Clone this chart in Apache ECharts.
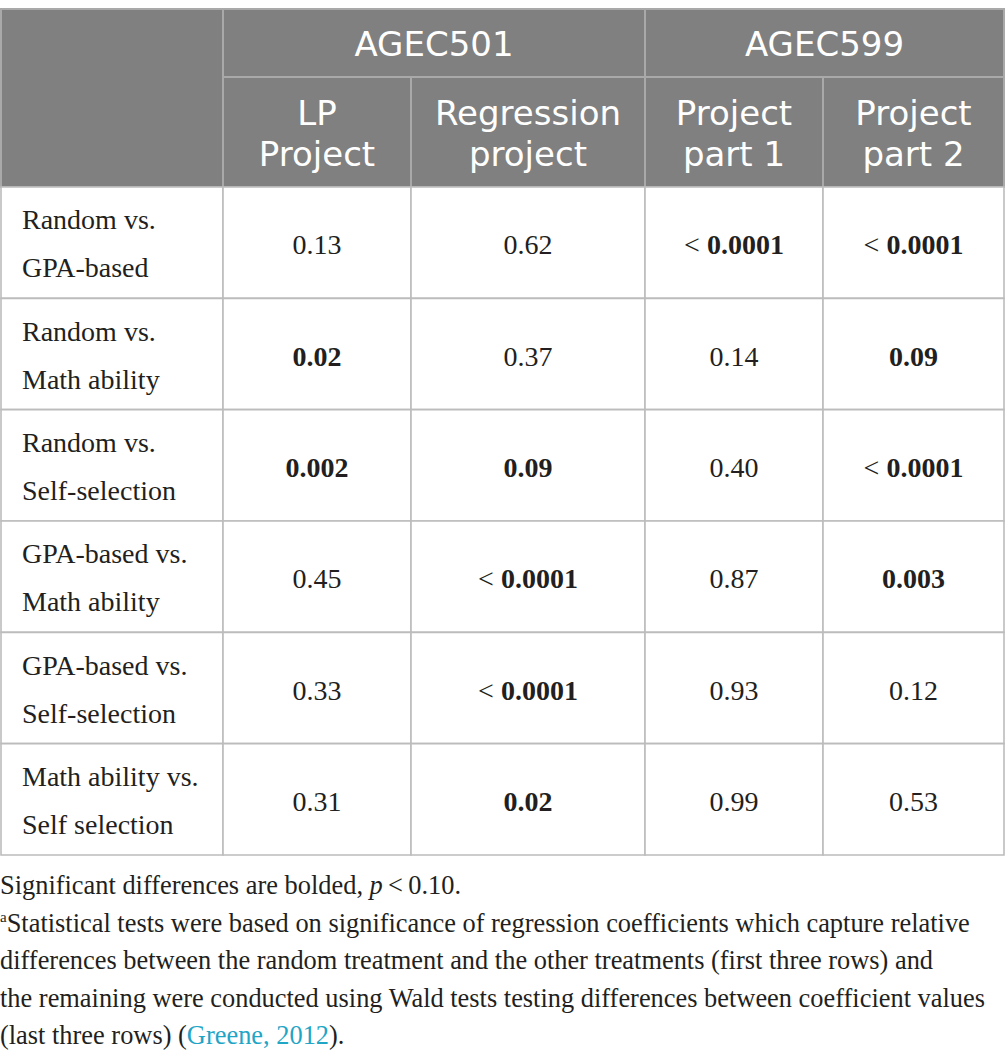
<!DOCTYPE html>
<html>
<head>
<meta charset="utf-8">
<script src="https://cdn.jsdelivr.net/npm/echarts@6/dist/echarts.min.js"></script>
<style>
html,body{margin:0;padding:0;background:#ffffff;}
#chart{width:1005px;height:1062px;}
</style>
</head>
<body>
<div id="chart"></div>
<script>
// ---------- data ----------
const groupHeaders = ['AGEC501', 'AGEC599'];
const columnHeaders = ['LP\nProject', 'Regression\nproject', 'Project\npart 1', 'Project\npart 2'];
const rowLabels = [
  'Random vs.\nGPA-based',
  'Random vs.\nMath ability',
  'Random vs.\nSelf-selection',
  'GPA-based vs.\nMath ability',
  'GPA-based vs.\nSelf-selection',
  'Math ability vs.\nSelf selection'
];
const lpProject         = ['0.13', '0.02', '0.002', '0.45', '0.33', '0.31'];
const regressionProject = ['0.62', '0.37', '0.09', '< 0.0001', '< 0.0001', '0.02'];
const projectPart1      = ['< 0.0001', '0.14', '0.40', '0.87', '0.93', '0.99'];
const projectPart2      = ['< 0.0001', '0.09', '< 0.0001', '0.003', '0.12', '0.53'];
const significanceLevel = 0.10;
const footnoteLines = [
  'Significant differences are bolded, {i|p}\u2009<\u20090.10.',
  '{sup|a}Statistical tests were based on significance of regression coefficients which capture relative',
  'differences between the random treatment and the other treatments (first three rows) and',
  'the remaining were conducted using Wald tests testing differences between coefficient values',
  '(last three rows) ({link|Greene, 2012}).'
];

// ---------- layout / style ----------
const COL_EDGES = [1, 223, 411, 645, 823, 1004];
const HEAD_Y = [9, 77, 187];
const TABLE_BOTTOM = 855;
const HEAD_FILL = '#808080';
const HEAD_LINE = '#a9a9a9';
const GRID_LINE = '#bcbcbc';
const TEXT = '#231f20';
const SERIF = '"Liberation Serif", "Times New Roman", serif';
const SANS = '"DejaVu Sans", sans-serif';
const HEAD_FONT = 34;
const HEAD_LINE_GAP = 41;
const BODY_LINE_GAP = 48;
const FOOT_SIZE = 26.4;

const valueColumns = [lpProject, regressionProject, projectPart1, projectPart2];

function cellRich(v) {
  const m = v.match(/^(<\s*)?([\d.]+)$/);
  const num = parseFloat(m[2]);
  const bold = num < significanceLevel;
  const prefix = m[1] ? '{n|< }' : '';
  return prefix + (bold ? '{b|' + m[2] + '}' : '{n|' + m[2] + '}');
}

const bodyCells = [];
rowLabels.forEach((lab, r) => {
  bodyCells.push({ value: [0, r], kind: 'label', text: lab });
  valueColumns.forEach((col, ci) => {
    bodyCells.push({ value: [ci + 1, r], kind: 'value', text: cellRich(col[r]) });
  });
});

const headerCells = [
  { value: [0, 0], c0: 0, c1: 1, l0: 0, l1: 2, text: '' },
  { value: [1, 0], c0: 1, c1: 3, l0: 0, l1: 1, text: groupHeaders[0] },
  { value: [3, 0], c0: 3, c1: 5, l0: 0, l1: 1, text: groupHeaders[1] }
];
columnHeaders.forEach((h, i) => {
  headerCells.push({ value: [i + 1, 0], c0: i + 1, c1: i + 2, l0: 1, l1: 2, text: h });
});

function lineTexts(text, cx, cy, gap, baseStyle) {
  const lines = text.split('\n');
  const n = lines.length;
  return lines.map((ln, k) => ({
    type: 'text',
    x: cx, y: cy + (k - (n - 1) / 2) * gap,
    style: Object.assign({ text: ln }, baseStyle)
  }));
}

function renderBody(params, api) {
  const cell = bodyCells[params.dataIndex];
  const c = api.value(0), r = api.value(1);
  const yc = api.coord([0, r])[1];
  const h = api.size([0, 1])[1];
  const x0 = api.coord([COL_EDGES[c], r])[0];
  const x1 = api.coord([COL_EDGES[c + 1], r])[0];
  let children = [{
    type: 'rect',
    shape: { x: x0, y: yc - h / 2, width: x1 - x0, height: h },
    style: { fill: '#ffffff', stroke: GRID_LINE, lineWidth: 1.6 }
  }];
  if (cell.kind === 'label') {
    children = children.concat(lineTexts(cell.text, x0 + 21, yc + 1, BODY_LINE_GAP, {
      font: '28px ' + SERIF, fill: TEXT,
      align: 'left', verticalAlign: 'middle', textAlign: 'left', textVerticalAlign: 'middle'
    }));
  } else {
    children.push({
      type: 'text',
      x: (x0 + x1) / 2, y: yc + 2,
      style: {
        text: cell.text, fill: TEXT, font: '28px ' + SERIF,
        align: 'center', verticalAlign: 'middle', textAlign: 'center', textVerticalAlign: 'middle',
        rich: {
          n: { fontFamily: SERIF, fontSize: 28, fill: TEXT, color: TEXT },
          b: { fontFamily: SERIF, fontSize: 28, fontWeight: 'bold', fill: TEXT, color: TEXT }
        }
      }
    });
  }
  return { type: 'group', children: children };
}

function renderHeader(params, api) {
  const cell = headerCells[params.dataIndex];
  const x0 = api.coord([COL_EDGES[cell.c0], 0])[0];
  const x1 = api.coord([COL_EDGES[cell.c1], 0])[0];
  const y0 = HEAD_Y[cell.l0], y1 = HEAD_Y[cell.l1];
  let children = [{
    type: 'rect',
    shape: { x: x0, y: y0, width: x1 - x0, height: y1 - y0 },
    style: { fill: HEAD_FILL, stroke: HEAD_LINE, lineWidth: 2 }
  }];
  if (cell.text) {
    children = children.concat(lineTexts(cell.text, (x0 + x1) / 2, (y0 + y1) / 2 + 1, HEAD_LINE_GAP, {
      font: HEAD_FONT + 'px ' + SANS, fill: '#ffffff',
      align: 'center', verticalAlign: 'middle', textAlign: 'center', textVerticalAlign: 'middle'
    }));
  }
  return { type: 'group', children: children };
}

const footGraphics = footnoteLines.map((t, i) => ({
  type: 'text',
  x: 0, y: 885 + i * 37.6,
  style: {
    text: t, font: FOOT_SIZE + 'px ' + SERIF, fill: TEXT,
    align: 'left', verticalAlign: 'middle', textAlign: 'left', textVerticalAlign: 'middle',
    rich: {
      i: { fontFamily: SERIF, fontSize: FOOT_SIZE, fontStyle: 'italic', fill: TEXT, color: TEXT },
      sup: { fontFamily: SERIF, fontSize: 15, fill: TEXT, color: TEXT, verticalAlign: 'top', padding: [0, 0, 11, 0] },
      link: { fontFamily: SERIF, fontSize: FOOT_SIZE, fill: '#1fa5c6', color: '#1fa5c6' }
    }
  }
}));

const chart = echarts.init(document.getElementById('chart'), null, { renderer: 'svg' });
chart.setOption({
  animation: false,
  backgroundColor: '#ffffff',
  grid: { left: 0, top: HEAD_Y[2], width: 1005, height: TABLE_BOTTOM - HEAD_Y[2] },
  xAxis: { type: 'value', min: 0, max: 1005, show: false, splitLine: { show: false } },
  yAxis: { type: 'category', data: rowLabels, inverse: true, show: false },
  series: [
    { type: 'custom', name: 'header', renderItem: renderHeader, data: headerCells, clip: false, silent: true },
    { type: 'custom', name: 'body', renderItem: renderBody, data: bodyCells, clip: false, silent: true }
  ],
  graphic: footGraphics
});
</script>
</body>
</html>
